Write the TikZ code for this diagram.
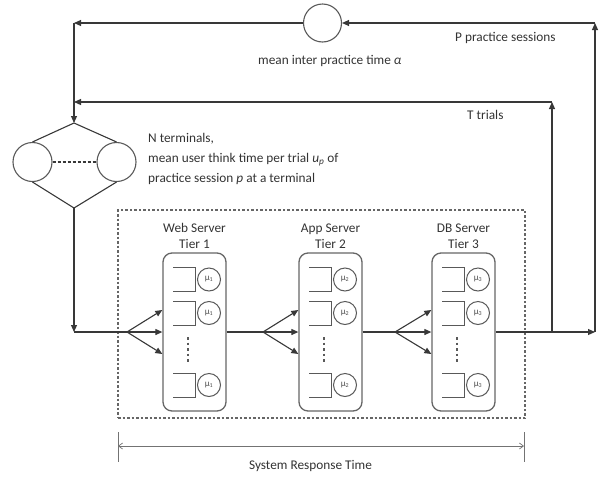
\documentclass[tikz,border=0pt]{standalone}
\usepackage{fontspec}
\setmainfont{Carlito}
\usetikzlibrary{arrows.meta,calc,positioning}
\newcommand\qq[3]{%
  \coordinate (#1) at #2;
  \draw[qline] ($(#1)+(-22,12)$) -- ($(#1)+(0,12)$) -- ($(#1)+(0,-12)$) -- ($(#1)+(-22,-12)$);
  \node[qcirc] (#1c) at ($(#1)+(14,0)$) {#3};
}
\begin{document}
\begin{tikzpicture}[x=1pt,y=1pt,
  line/.style={draw=black!78, line width=1.1pt},
  arr/.style={line, -{Triangle[length=7pt,width=6pt]}},
  tierbox/.style={draw=black!60, line width=1.3pt, rounded corners=9pt, minimum width=63pt, minimum height=158pt, inner sep=0},
  qline/.style={draw=black!65, line width=1pt},
  qcirc/.style={circle, draw=black!65, line width=1pt, minimum size=23pt, inner sep=0, text=black!70, font=\fontsize{9}{9}\selectfont},
  bigcirc/.style={circle, draw=black!65, line width=1.1pt, inner sep=0},
  txt/.style={font=\fontsize{13.3}{16}\selectfont, text=black!80, inner sep=0},
  sysbox/.style={draw=black!60, line width=1.2pt, dash pattern=on 2.5pt off 2pt, minimum width=407pt, minimum height=208pt, inner sep=0},
  dotv/.style={draw=black!65, line width=1.6pt, dash pattern=on 2.5pt off 3pt},
  dim/.style={draw=black!55, line width=0.7pt, {Straight Barb[length=4pt,width=6pt]}-{Straight Barb[length=4pt,width=6pt]}},
  tick/.style={draw=black!55, line width=1pt}
]
\useasboundingbox (0,0) rectangle (607,-477);

% top circle and feedback coordinates
\node[bigcirc, minimum size=38pt] (c) at (322.5,-23) {};
\coordinate (TL) at (74,-23);
\coordinate (TR) at (595,-23);
\coordinate (TTL) at (74,-102);
\coordinate (TTR) at (552,-102);

% terminals diamond
\coordinate (dt) at (74,-123);
\coordinate (db) at (74,-208);
\node[bigcirc, minimum size=39pt] (lc) at (32.5,-162) {};
\node[bigcirc, minimum size=39pt] (rc) at (116.5,-162) {};
\draw[line] (dt) -- (lc.north);
\draw[line] (dt) -- (rc.north);
\draw[line] (lc.south) -- (db);
\draw[line] (rc.south) -- (db);
\draw[line, dashed, dash pattern=on 3pt off 2pt] (lc.east) -- (rc.west);

% system box
\node[sysbox] (sys) at (321.5,-314) {};

% tiers
\node[tierbox] (t1) at (194.5,-332) {};
\node[tierbox] (t2) at (330.5,-332) {};
\node[tierbox] (t3) at (463.5,-332) {};
\node[txt, align=center, above=4pt of t1] (l1) {Web Server\\Tier 1};
\node[txt, align=center, above=4pt of t2] (l2) {App Server\\Tier 2};
\node[txt, align=center, above=4pt of t3] (l3) {DB Server\\Tier 3};

\foreach \t/\cx in {1/194.5, 2/330.5, 3/463.5} {
  \qq{q\t a}{(\cx+0.5,-279.5)}{μ\textsubscript{\t}}
  \qq{q\t b}{(\cx+0.5,-313)}{μ\textsubscript{\t}}
  \qq{q\t c}{(\cx+0.5,-385)}{μ\textsubscript{\t}}
  \draw[dotv] (\cx-6.5,-337) -- (\cx-6.5,-362);
}

% forks
\coordinate (cin) at (74,-332);
\coordinate (f1) at (127,-332);
\coordinate (f2) at (263,-332);
\coordinate (f3) at (395,-332);
\coordinate (o) at (552,-332);
\coordinate (ro) at (595,-332);

\draw[arr] (db) -- (cin);
\draw[line] (cin) -- (f1);
\draw[arr] (f1) -- ($(t1.west)+(0,22)$);
\draw[arr] (f1) -- (t1.west);
\draw[arr] (f1) -- ($(t1.west)+(0,-22)$);
\draw[line] (t1.east) -- (f2);
\draw[arr] (f2) -- ($(t2.west)+(0,22)$);
\draw[arr] (f2) -- (t2.west);
\draw[arr] (f2) -- ($(t2.west)+(0,-22)$);
\draw[line] (t2.east) -- (f3);
\draw[arr] (f3) -- ($(t3.west)+(0,22)$);
\draw[arr] (f3) -- (t3.west);
\draw[arr] (f3) -- ($(t3.west)+(0,-22)$);
\draw[arr] (t3.east) -- (ro);

% feedback loops
\draw[arr] (ro) -- (TR);
\draw[arr] (TR) -- (c);
\draw[arr] (c) -- (TL);
\draw[arr] (TL) -- (dt);
\draw[arr] (o) -- (TTR);
\draw[arr] (TTR) -- (TTL);

% labels
\node[txt, anchor=west] (lblc) at (258,-61) {mean inter practice time \textit{α}};
\node[txt, anchor=west] (lblP) at (455,-38) {P practice sessions};
\node[txt, anchor=west] (lblT) at (467,-115) {T trials};
\node[txt, anchor=north west, align=left, font=\fontsize{13.3}{20}\selectfont] (lblN) at (148,-133)
  {N terminals,\\mean user think time per trial \textit{u}\textsubscript{\textit{p}} of\\practice session \textit{p} at a terminal};

% system response time
\coordinate (sA) at (118,-446);
\coordinate (sB) at (524,-446);
\draw[dim] (sA) -- (sB);
\draw[tick] ($(sA)+(0,14)$) -- ($(sA)+(0,-16)$);
\draw[tick] ($(sB)+(0,14)$) -- ($(sB)+(0,-16)$);
\node[txt] (lblS) at (310.5,-466) {System Response Time};
\end{tikzpicture}
\end{document}
